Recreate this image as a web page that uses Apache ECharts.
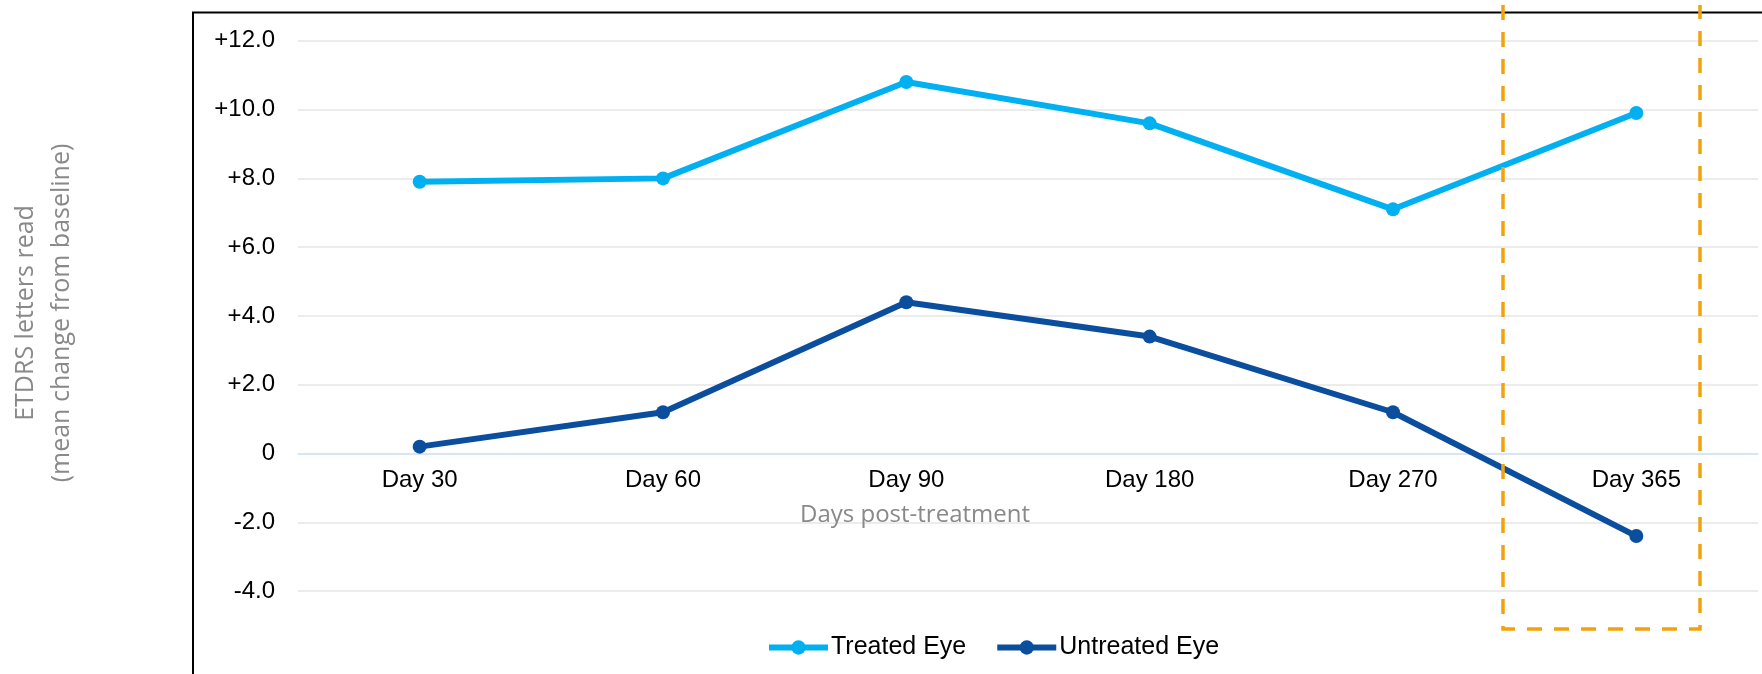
<!DOCTYPE html>
<html>
<head>
<meta charset="utf-8">
<script src="https://cdn.jsdelivr.net/npm/echarts@6/dist/echarts.min.js"></script>
<style>html,body{margin:0;padding:0;background:#fff;}#chart{width:1762px;height:674px;}</style>
</head>
<body>
<div id="chart"></div>
<script>
const categories = ['Day 30', 'Day 60', 'Day 90', 'Day 180', 'Day 270', 'Day 365'];
const treatedEye = [7.9, 8.0, 10.8, 9.6, 7.1, 9.9];
const untreatedEye = [0.2, 1.2, 4.4, 3.4, 1.2, -2.4];
const seriesNames = ['Treated Eye', 'Untreated Eye'];
const yTicks = [-4, -2, 0, 2, 4, 6, 8, 10, 12];
const yTickLabels = ['-4.0', '-2.0', '0', '+2.0', '+4.0', '+6.0', '+8.0', '+10.0', '+12.0'];
const xAxisTitle = 'Days post-treatment';
const yAxisTitle = 'ETDRS letters read\n(mean change from baseline)';

const chart = echarts.init(document.getElementById('chart'), null, {renderer: 'canvas'});
const treatedColor = '#00B0F0';
const untreatedColor = '#0C4E9E';
const orange = '#F2A20C';

chart.setOption({
  animation: false,
  backgroundColor: '#ffffff',
  grid: {left: 298, right: 4, top: 40.8, bottom: 82.9, containLabel: false},
  xAxis: {
    type: 'category',
    data: categories,
    boundaryGap: true,
    offset: -137.5,
    axisLine: {show: true, onZero: false, lineStyle: {color: '#CFE2F6', width: 1.5}},
    axisTick: {show: false},
    axisLabel: {color: '#000', fontFamily: 'Liberation Sans', fontSize: 24, margin: 15},
    splitLine: {show: false}
  },
  yAxis: {
    type: 'value',
    min: -4, max: 12, interval: 2,
    axisLine: {show: false},
    axisTick: {show: false},
    axisLabel: {
      color: '#000', fontFamily: 'Liberation Sans', fontSize: 24, margin: 23,
      formatter: function (v) { const i = yTicks.indexOf(v); return i >= 0 ? yTickLabels[i] : ''; }
    },
    splitLine: {show: true, lineStyle: {color: '#E6E6E6', width: 1.5}}
  },
  legend: {
    data: seriesNames,
    left: 761, top: 630,
    itemWidth: 59, itemHeight: 18, itemGap: 28,
    lineStyle: {width: 6},
    textStyle: {color: '#000', fontFamily: 'Liberation Sans', fontSize: 25, padding: [0, 0, 0, -2]}
  },
  series: [
    {
      name: seriesNames[0], type: 'line', data: treatedEye,
      symbol: 'circle', symbolSize: 14,
      lineStyle: {color: treatedColor, width: 6},
      itemStyle: {color: treatedColor}
    },
    {
      name: seriesNames[1], type: 'line', data: untreatedEye,
      symbol: 'circle', symbolSize: 14,
      lineStyle: {color: untreatedColor, width: 6},
      itemStyle: {color: untreatedColor}
    }
  ],
  graphic: [
    {
      type: 'polyline', silent: true, z: 100,
      shape: {points: [[193, 700], [193, 12.5], [1800, 12.5]]},
      style: {stroke: '#000', lineWidth: 2, fill: null}
    },
    {
      type: 'polyline', silent: true, z: 100,
      shape: {points: [[1503, 5], [1503, 629], [1700, 629], [1700, 5]]},
      style: {stroke: orange, lineWidth: 3.5, lineDash: [15, 12], fill: null}
    },
    {
      type: 'text', silent: true, z: 100,
      x: 915, y: 515,
      style: {text: xAxisTitle, fill: '#898989', font: '24px "Open Sans"', align: 'center', verticalAlign: 'middle'}
    },
    {
      type: 'text', silent: true, z: 100,
      x: 44, y: 313, rotation: Math.PI / 2,
      style: {text: yAxisTitle, fill: '#898989', font: '25px "Open Sans"', align: 'center', verticalAlign: 'middle', lineHeight: 36}
    }
  ]
});
</script>
</body>
</html>
